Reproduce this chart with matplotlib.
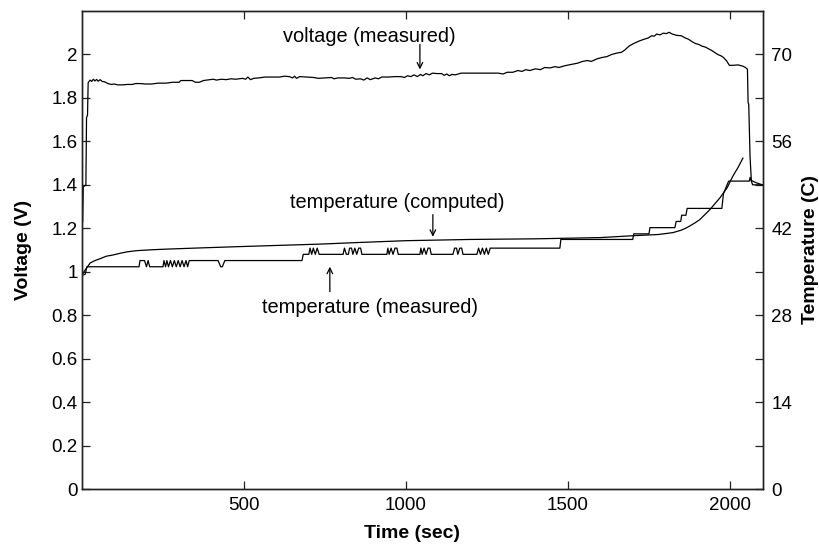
import matplotlib
matplotlib.use("Agg")
import matplotlib.pyplot as plt
from matplotlib.ticker import FixedLocator, FuncFormatter

plt.rcParams['font.family'] = ['Liberation Sans', 'DejaVu Sans']

# ---------------- data ----------------
volt_t = [2, 4, 12, 14, 17, 19,
          25, 30, 35, 40, 45, 50, 56, 62, 70, 80, 90, 100, 110, 125, 140, 155, 165, 180, 195, 215,
          235, 260, 280, 300, 305, 325, 340, 350, 362, 375, 395, 405, 415, 430, 445, 460, 475, 495,
          505, 512, 520, 530, 545, 565, 590, 610, 625, 640, 650, 656, 662, 672, 695, 715, 730, 750,
          770, 778, 790, 810, 825, 835, 845, 860, 870, 880, 890, 905, 915, 925, 945, 965, 985, 995,
          1005, 1015, 1025, 1035, 1045, 1052, 1062, 1072, 1082, 1095, 1110, 1118, 1126, 1134, 1142,
          1152, 1170, 1200, 1240, 1285, 1300, 1312, 1330, 1345, 1358, 1370, 1382, 1400, 1415, 1428,
          1445, 1460, 1472, 1490, 1510, 1530, 1545, 1560, 1572, 1590, 1605, 1620, 1635, 1650, 1665,
          1675, 1690, 1705, 1720, 1735, 1748, 1758, 1766, 1774, 1784, 1794, 1804, 1812, 1822, 1835,
          1850, 1862, 1872, 1884, 1894, 1904, 1914, 1924, 1934, 1944, 1954, 1962, 1972, 1980, 1990,
          1998, 2010, 2025, 2040, 2048, 2054, 2056, 2058, 2062, 2066, 2080, 2100]
volt_v = [1.23, 1.39, 1.40, 1.71, 1.72, 1.87,
          1.882, 1.876, 1.886, 1.878, 1.885, 1.877, 1.884, 1.876, 1.874, 1.866, 1.862, 1.864, 1.860,
          1.860, 1.862, 1.862, 1.866, 1.866, 1.864, 1.864,
          1.868, 1.868, 1.872, 1.872, 1.880, 1.880, 1.880, 1.872, 1.872, 1.880, 1.884, 1.886, 1.882,
          1.886, 1.884, 1.888, 1.886, 1.890,
          1.886, 1.896, 1.884, 1.890, 1.892, 1.896, 1.896, 1.896, 1.900, 1.898, 1.892, 1.900, 1.890,
          1.898, 1.896, 1.894, 1.890, 1.892,
          1.894, 1.888, 1.892, 1.892, 1.890, 1.894, 1.886, 1.888, 1.882, 1.892, 1.884, 1.892, 1.888,
          1.896, 1.896, 1.898, 1.898, 1.894,
          1.902, 1.898, 1.906, 1.898, 1.908, 1.902, 1.912, 1.906, 1.914, 1.912, 1.912, 1.904, 1.910,
          1.902, 1.908,
          1.906, 1.914, 1.914, 1.914, 1.914, 1.910, 1.918, 1.918, 1.926, 1.922, 1.930, 1.926, 1.934,
          1.930, 1.940,
          1.938, 1.944, 1.940, 1.948, 1.954, 1.960, 1.968, 1.972, 1.968, 1.980, 1.986, 1.990, 2.000,
          2.006, 2.010,
          2.020, 2.040, 2.052, 2.062, 2.070, 2.076, 2.086, 2.084, 2.094, 2.090, 2.098, 2.096, 2.102,
          2.094, 2.088,
          2.086, 2.076, 2.070, 2.058, 2.050, 2.046, 2.038, 2.034, 2.026, 2.018, 2.008, 2.000, 1.994,
          1.986, 1.970,
          1.950, 1.950, 1.952, 1.946, 1.940, 1.932, 1.780, 1.770, 1.530, 1.420, 1.410, 1.400]

temp_meas_t = [0, 10, 15, 176, 179, 193, 199, 204, 209, 222, 250, 253, 258, 262, 267, 273, 279,
               285, 291, 297, 303, 309, 315, 321, 326, 331, 420, 428, 433, 441, 679, 683, 700,
               704, 709, 714, 720, 726, 732, 806, 810, 816, 822, 826, 832, 836, 842, 848, 854,
               860, 864, 883, 941, 944, 948, 954, 960, 966, 972, 976, 1003, 1043, 1046, 1050,
               1056, 1062, 1068, 1074, 1078, 1105, 1145, 1150, 1156, 1160, 1166, 1172, 1176,
               1219, 1224, 1230, 1236, 1242, 1248, 1254, 1260, 1475, 1478, 1700, 1703, 1750,
               1753, 1830, 1834, 1848, 1851, 1864, 1868, 1975, 1980, 1996, 2060, 2062, 2066,
               2070, 2100]
temp_meas_c = [34.4, 34.6, 35.8, 35.8, 36.8, 36.8, 35.8, 36.8, 35.8, 35.8, 35.8, 36.8, 35.8,
               36.8, 35.8, 36.8, 35.8, 36.8, 35.8, 36.8, 35.8, 36.8, 35.8, 36.8, 35.8, 36.8,
               36.8, 35.8, 35.8, 36.8, 36.8, 37.8, 37.8, 38.8, 37.8, 38.8, 37.8, 38.8, 37.8,
               37.8, 38.8, 37.8, 37.8, 38.8, 38.8, 37.8, 38.8, 37.8, 38.8, 38.8, 37.8, 37.8,
               37.8, 38.8, 37.8, 38.8, 37.8, 38.8, 38.8, 37.8, 37.8, 37.8, 38.8, 37.8, 38.8,
               37.8, 38.8, 38.8, 37.8, 37.8, 37.8, 38.8, 38.8, 37.8, 38.8, 38.8, 37.8, 37.8,
               38.8, 37.8, 38.8, 37.8, 38.8, 37.8, 38.8, 38.8, 40.2, 40.2, 41.1, 41.1, 42.1,
               42.1, 43.1, 43.1, 44.1, 44.1, 45.2, 45.2, 47.6, 49.6, 49.6, 50.2, 49.6, 49.0,
               49.0]

temp_comp_t = [0, 10, 25, 40, 56, 75, 96, 120, 139, 170, 220, 265, 373, 488, 611, 735, 850,
               1000, 1200, 1400, 1600, 1700, 1780, 1824, 1850, 1867, 1890, 1907, 1938, 1969,
               1991, 2009, 2025, 2040]
temp_comp_c = [34.5, 35.3, 36.4, 36.8, 37.1, 37.5, 37.7, 38.0, 38.2, 38.4, 38.55, 38.65, 38.85,
               39.05, 39.25, 39.45, 39.7, 40.0, 40.2, 40.3, 40.5, 40.8, 41.0, 41.3, 41.7, 42.1,
               42.8, 43.4, 45.0, 46.9, 48.5, 50.4, 51.8, 53.3]

x_ticks = [500, 1000, 1500, 2000]
v_ticks = [0, 0.2, 0.4, 0.6, 0.8, 1.0, 1.2, 1.4, 1.6, 1.8, 2.0]
c_ticks = [0, 14, 28, 42, 56, 70]
c_minor = [7, 21, 35, 49, 63]

# ---------------- figure ----------------
fig = plt.figure(figsize=(8.2, 5.48), dpi=100)
ax = fig.add_axes([82 / 820, 1 - 489 / 548, (763 - 82) / 820, (489 - 11) / 548])
ax2 = ax.twinx()

lw = 0.9
ax.plot(volt_t, volt_v, color='black', lw=lw)
ax2.plot(temp_meas_t, temp_meas_c, color='black', lw=lw)
ax2.plot(temp_comp_t, temp_comp_c, color='black', lw=lw)

ax.set_xlim(0, 2102)
ax.set_ylim(0, 2.2)
ax2.set_ylim(0, 77)

ax.xaxis.set_major_locator(FixedLocator(x_ticks))
ax.yaxis.set_major_locator(FixedLocator(v_ticks))
ax.yaxis.set_major_formatter(FuncFormatter(lambda v, p: ('%g' % round(v, 1))))
ax2.yaxis.set_major_locator(FixedLocator(c_ticks))
ax2.yaxis.set_minor_locator(FixedLocator(c_minor))

tick_fs = 13.5
ax.tick_params(axis='both', which='major', direction='in', length=6, width=0.9,
               labelsize=tick_fs, top=True, right=False, color='#222222')
ax.tick_params(axis='x', pad=6)
ax.tick_params(axis='y', pad=3)
ax2.tick_params(axis='y', which='both', direction='in', length=6, width=0.9,
                labelsize=tick_fs, pad=6, color='#222222')

for a in (ax, ax2):
    for s in a.spines.values():
        s.set_linewidth(1.0)
        s.set_color('#222222')

lab_fs = 14
ax.set_xlabel('Time (sec)', fontsize=lab_fs, fontweight='bold')
ax.set_ylabel('Voltage (V)', fontsize=lab_fs, fontweight='bold')
ax2.set_ylabel('Temperature (C)', fontsize=lab_fs, fontweight='bold')
ax.xaxis.set_label_coords(0.485, -0.075)
ax.yaxis.set_label_coords(-0.073, 0.5)
ax2.yaxis.set_label_coords(1.058, 0.5)

ann_fs = 14.4
arw = dict(arrowstyle='->', color='black', lw=0.9, shrinkA=0, shrinkB=0)
ax.text(886, 2.083, 'voltage (measured)', fontsize=ann_fs, ha='center', va='center')
ax.annotate('', xy=(1043, 1.931), xytext=(1043, 2.046), arrowprops=arw)
ax.text(973, 1.318, 'temperature (computed)', fontsize=ann_fs, ha='center', va='center')
ax.annotate('', xy=(1083, 1.161), xytext=(1083, 1.263), arrowprops=arw)
ax.text(889, 0.834, 'temperature (measured)', fontsize=ann_fs, ha='center', va='center')
ax.annotate('', xy=(765, 1.023), xytext=(765, 0.908), arrowprops=arw)

fig.savefig('out.png', dpi=100)
